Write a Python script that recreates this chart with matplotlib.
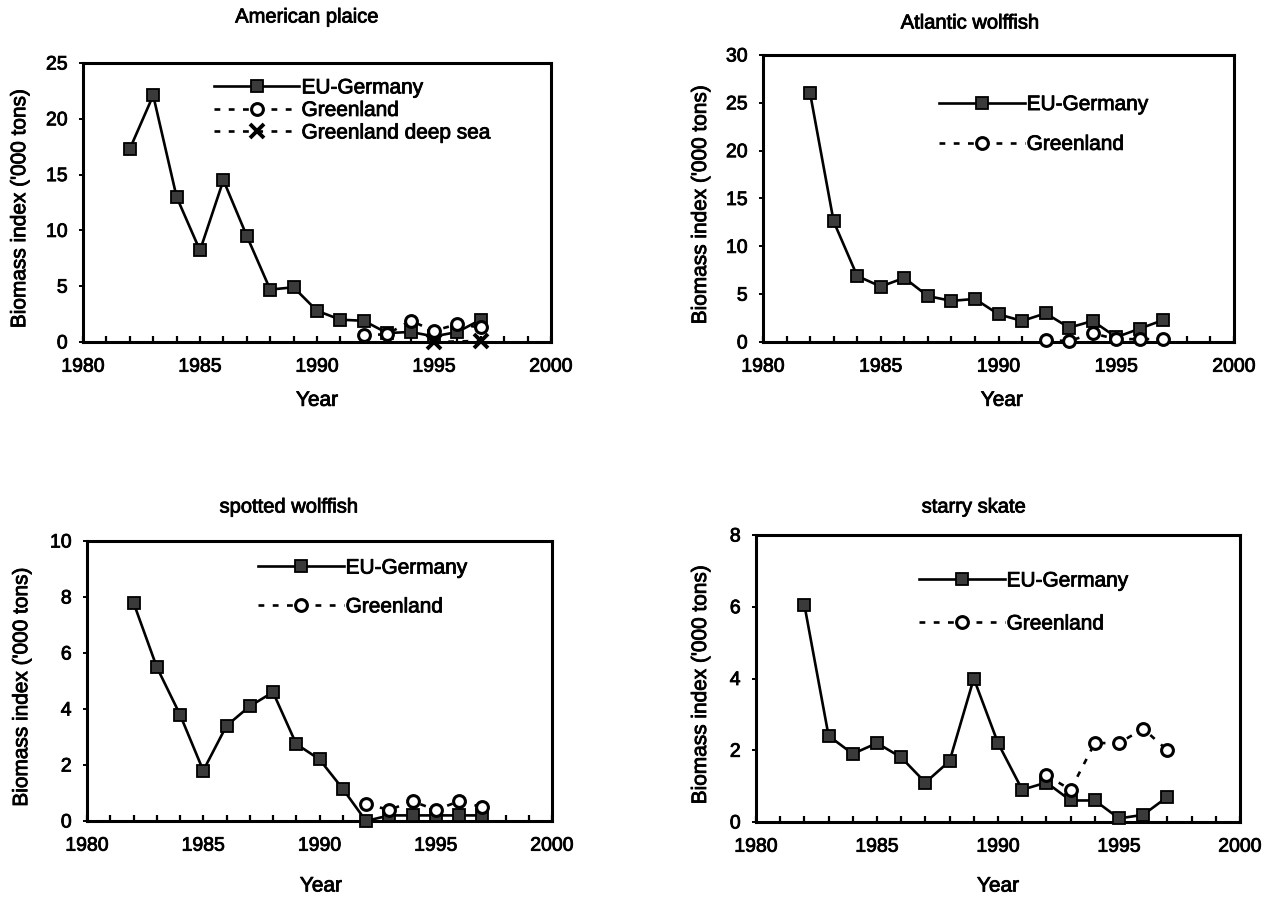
import matplotlib
matplotlib.use("Agg")
import matplotlib.pyplot as plt
import matplotlib.patheffects as pe
import numpy as np
from matplotlib.ticker import MultipleLocator

plt.rcParams['font.family'] = ['Liberation Sans', 'DejaVu Sans']

# ---------------- data ----------------
years = [1982, 1983, 1984, 1985, 1986, 1987, 1988, 1989,
         1990, 1991, 1992, 1993, 1994, 1995, 1996, 1997]
gl_years = [1992, 1993, 1994, 1995, 1996, 1997]
deep_years = [1995, 1997]

plaice_eu = [17.3, 22.1, 13.0, 8.2, 14.5, 9.5, 4.7, 4.9,
             2.8, 2.0, 1.9, 0.8, 0.9, 0.5, 0.9, 2.0]
plaice_gl = [0.6, 0.7, 1.9, 1.0, 1.6, 1.3]
plaice_deep = [0.0, 0.1]

atl_eu = [26.0, 12.6, 6.9, 5.8, 6.7, 4.8, 4.3, 4.5,
          2.9, 2.2, 3.0, 1.5, 2.2, 0.5, 1.4, 2.3]
atl_gl = [0.2, 0.1, 0.9, 0.3, 0.3, 0.3]

spot_eu = [7.8, 5.5, 3.8, 1.8, 3.4, 4.1, 4.6, 2.75,
           2.2, 1.15, 0.0, 0.2, 0.2, 0.2, 0.2, 0.2]
spot_gl = [0.6, 0.4, 0.7, 0.4, 0.7, 0.5]

skate_eu = [6.05, 2.4, 1.9, 2.2, 1.8, 1.1, 1.7, 4.0,
            2.2, 0.9, 1.1, 0.6, 0.6, 0.1, 0.2, 0.7]
skate_gl = [1.3, 0.9, 2.2, 2.2, 2.6, 2.0]

titles = ["American plaice", "Atlantic wolffish", "spotted wolffish", "starry skate"]
ymaxes = [25, 30, 10, 8]
ysteps = [5, 5, 2, 2]
xticks = [1980, 1985, 1990, 1995, 2000]

# ---------------- layout ----------------
W, H = 1273, 897
fig = plt.figure(figsize=(W / 100, H / 100), dpi=100)
fig.patch.set_facecolor('white')

def px_axes(l, r, t, b):
    return [l / W, 1 - b / H, (r - l) / W, (b - t) / H]

boxes = [px_axes(83, 551, 63, 342), px_axes(763, 1234, 55, 342),
         px_axes(87, 552, 541, 821), px_axes(756, 1240, 535, 822)]
title_pos = [(307, 17), (970, 23), (289, 507), (974, 507)]
ylab_x = [-0.115, -0.1125, -0.12, -0.095]
xlab = [(0.5, -0.175), (0.507, -0.17), (0.503, -0.198), (0.5, -0.19)]
leg_anchor = [(0.280, 0.830), (0.374, 0.758), (0.368, 0.834), (0.337, 0.765)]
leg_spacing = [0.17, 1.0, 0.95, 1.15]

FS_TICK = 14
FS_LAB = 15
FS_LEG = 15
FS_TITLE = 14.5
heavy = [pe.withStroke(linewidth=0.6, foreground='black')]

sq = dict(color='black', lw=1.9, marker='s', markersize=8.5,
          markerfacecolor='#3a3a3a', markeredgecolor='black', markeredgewidth=1.3)
ci = dict(color='black', lw=1.9, ls=(0, (2.2, 3.2)), marker='o', markersize=8.5,
          markerfacecolor='white', markeredgecolor='black', markeredgewidth=2.2)
xx = dict(color='black', lw=1.9, ls=(0, (2.2, 3.2)), marker='x', markersize=9.5,
          markeredgewidth=2.8)

series = [
    (plaice_eu, plaice_gl, plaice_deep),
    (atl_eu, atl_gl, None),
    (spot_eu, spot_gl, None),
    (skate_eu, skate_gl, None),
]

for i, (box, (eu, gl, deep)) in enumerate(zip(boxes, series)):
    ax = fig.add_axes(box)
    ax.plot(years, eu, label="EU-Germany", zorder=3, clip_on=False, **sq)
    ax.plot(gl_years, gl, label="Greenland", zorder=4, clip_on=False, **ci)
    if deep is not None:
        ax.plot(deep_years, deep, label="Greenland deep sea", zorder=5,
                clip_on=False, **xx)
    ax.set_xlim(1980, 2000)
    ax.set_ylim(0, ymaxes[i])
    ax.set_xticks(xticks)
    ax.xaxis.set_minor_locator(MultipleLocator(1))
    ax.yaxis.set_major_locator(MultipleLocator(ysteps[i]))
    for s in ax.spines.values():
        s.set_linewidth(2.2)
    ax.tick_params(axis='x', which='both', direction='in', length=4, width=1.6,
                   pad=12, labelsize=FS_TICK)
    ax.tick_params(axis='y', which='major', direction='out', length=3, width=1.4,
                   pad=8, labelsize=FS_TICK)
    ax.set_ylabel("Biomass index ('000 tons)", fontsize=FS_LAB)
    ax.yaxis.set_label_coords(ylab_x[i], 0.48)
    ax.set_xlabel("Year", fontsize=FS_LAB)
    ax.xaxis.set_label_coords(*xlab[i])
    leg = ax.legend(loc='center left', bbox_to_anchor=leg_anchor[i], frameon=False,
                    fontsize=FS_LEG, handlelength=4.1, handletextpad=0.1,
                    borderpad=0, borderaxespad=0, numpoints=1,
                    labelspacing=leg_spacing[i])
    for t in (ax.get_xticklabels() + ax.get_yticklabels() + leg.get_texts()
              + [ax.xaxis.label, ax.yaxis.label]):
        t.set_path_effects(heavy)
    tx, ty = title_pos[i]
    fig.text(tx / W, 1 - ty / H, titles[i], ha='center', va='center',
             fontsize=FS_TITLE, path_effects=heavy)

fig.savefig("out.png", dpi=100, facecolor='white')
